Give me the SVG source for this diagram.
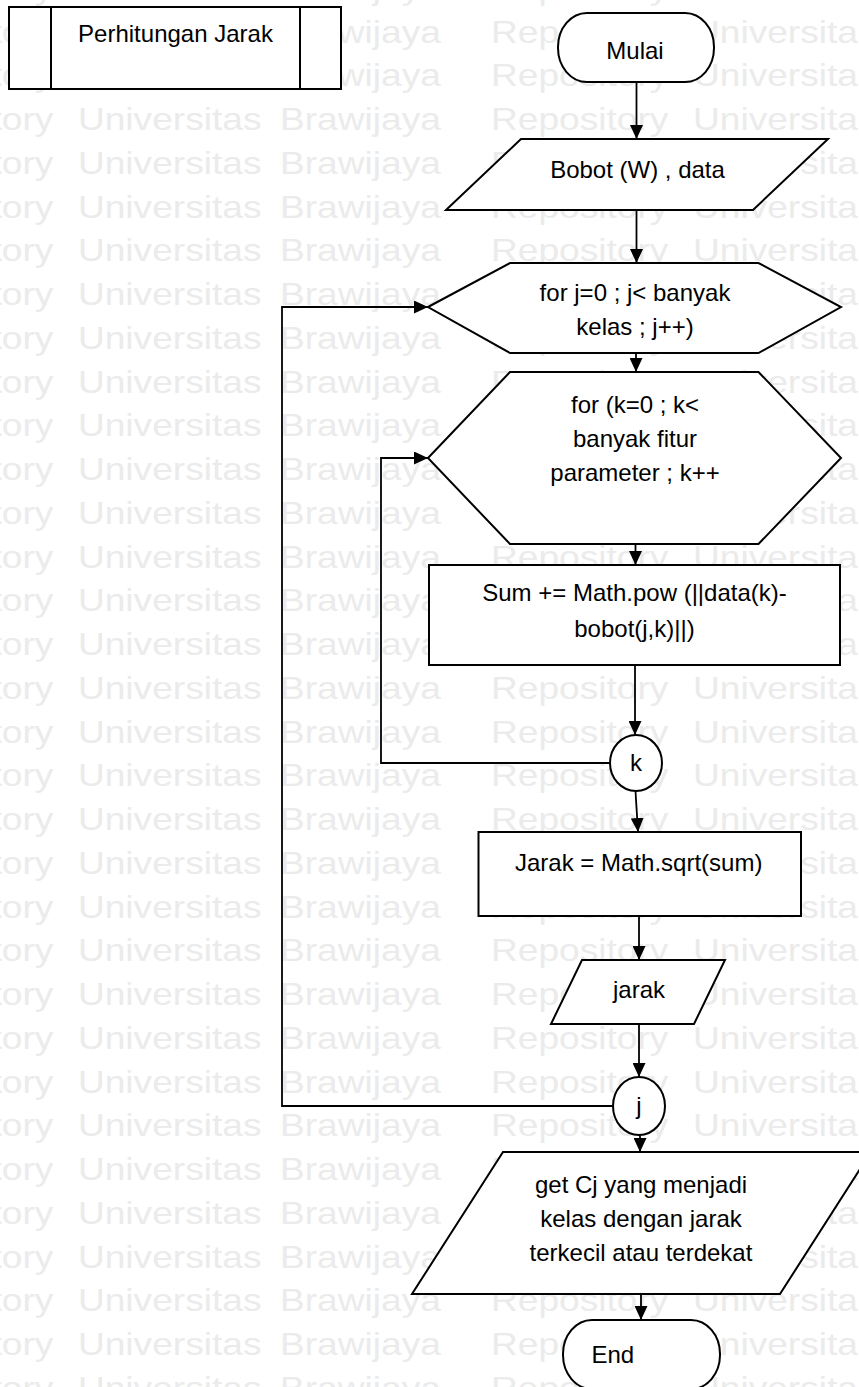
<svg xmlns="http://www.w3.org/2000/svg" width="859" height="1387" viewBox="0 0 859 1387">
  <style>
    .shape { fill: #fff; stroke: #000; stroke-width: 2; }
    .conn { fill: none; stroke: #000; stroke-width: 1.8; }
    .lbl { font-family: "Liberation Sans", Arial, sans-serif; font-size: 24px; fill: #000; text-anchor: middle; }
    .wm { font-family: "Liberation Sans", Arial, sans-serif; font-size: 32px; fill: #ebebeb; }
  </style>
  <defs>
    <marker id="arrow" viewBox="0 0 14 13" refX="14" refY="6.5" markerWidth="14" markerHeight="13" markerUnits="userSpaceOnUse" orient="auto">
      <path d="M0,0 L14,6.5 L0,13 z" fill="#000"/>
    </marker>
    <!-- one repeated line of the background text, stretched horizontally -->
    <g id="wm-row">
      <text class="wm" transform="scale(1.16,1)"><tspan x="-106.9">Repository</tspan><tspan x="67.2">Universitas</tspan><tspan x="241.4">Brawijaya</tspan><tspan x="423.3">Repository</tspan><tspan x="597.4">Universitas</tspan></text>
    </g>
  </defs>

  <rect width="859" height="1387" fill="#fff"/>

  <!-- background watermark rows -->
  <g id="watermark">
    <use href="#wm-row" y="-1.25"/>
    <use href="#wm-row" y="42.5"/>
    <use href="#wm-row" y="86.25"/>
    <use href="#wm-row" y="130"/>
    <use href="#wm-row" y="173.75"/>
    <use href="#wm-row" y="217.5"/>
    <use href="#wm-row" y="261.25"/>
    <use href="#wm-row" y="305"/>
    <use href="#wm-row" y="348.75"/>
    <use href="#wm-row" y="392.5"/>
    <use href="#wm-row" y="436.25"/>
    <use href="#wm-row" y="480"/>
    <use href="#wm-row" y="523.75"/>
    <use href="#wm-row" y="567.5"/>
    <use href="#wm-row" y="611.25"/>
    <use href="#wm-row" y="655"/>
    <use href="#wm-row" y="698.75"/>
    <use href="#wm-row" y="742.5"/>
    <use href="#wm-row" y="786.25"/>
    <use href="#wm-row" y="830"/>
    <use href="#wm-row" y="873.75"/>
    <use href="#wm-row" y="917.5"/>
    <use href="#wm-row" y="961.25"/>
    <use href="#wm-row" y="1005"/>
    <use href="#wm-row" y="1048.75"/>
    <use href="#wm-row" y="1092.5"/>
    <use href="#wm-row" y="1136.25"/>
    <use href="#wm-row" y="1180"/>
    <use href="#wm-row" y="1223.75"/>
    <use href="#wm-row" y="1267.5"/>
    <use href="#wm-row" y="1311.25"/>
    <use href="#wm-row" y="1355"/>
    <use href="#wm-row" y="1398.75"/>
  </g>

  <!-- connectors -->
  <g id="connectors">
    <path class="conn" d="M636.5,82 V139" marker-end="url(#arrow)"/>
    <path class="conn" d="M636.5,210 V263" marker-end="url(#arrow)"/>
    <path class="conn" d="M636,353 V372" marker-end="url(#arrow)"/>
    <path class="conn" d="M635.5,544 V565" marker-end="url(#arrow)"/>
    <path class="conn" d="M635,665 V735" marker-end="url(#arrow)"/>
    <path class="conn" d="M635.5,791 L638,832" marker-end="url(#arrow)"/>
    <path class="conn" d="M639,916 V960" marker-end="url(#arrow)"/>
    <path class="conn" d="M639,1024 V1077" marker-end="url(#arrow)"/>
    <path class="conn" d="M640,1135 V1152" marker-end="url(#arrow)"/>
    <path class="conn" d="M641,1294 V1320" marker-end="url(#arrow)"/>
    <path class="conn" d="M610,763 H381 V458 H428" marker-end="url(#arrow)"/>
    <path class="conn" d="M613,1106 H282 V307 H428" marker-end="url(#arrow)"/>
  </g>

  <!-- predefined process title -->
  <g id="title">
    <rect class="shape" x="9" y="7" width="332" height="82"/>
    <line x1="51" y1="7" x2="51" y2="89" stroke="#000" stroke-width="2"/>
    <line x1="300" y1="7" x2="300" y2="89" stroke="#000" stroke-width="2"/>
    <text class="lbl" x="175.5" y="42">Perhitungan Jarak</text>
  </g>

  <g id="start">
    <rect class="shape" x="558" y="13" width="156" height="69" rx="29" ry="34"/>
    <text class="lbl" x="635" y="59">Mulai</text>
  </g>

  <g id="input-data">
    <polygon class="shape" points="521,139 828,139 753,210 446,210"/>
    <text class="lbl" x="637.5" y="178">Bobot (W) , data</text>
  </g>

  <g id="loop-j">
    <polygon class="shape" points="428,307 510,263 758.5,263 841,307 758.5,353 510,353"/>
    <text class="lbl" x="635" y="301">for j=0 ; j&lt; banyak</text>
    <text class="lbl" x="635" y="335">kelas ; j++)</text>
  </g>

  <g id="loop-k">
    <polygon class="shape" points="428,458 510,372 758.5,372 841,458 758.5,544 510,544"/>
    <text class="lbl" x="635" y="413">for (k=0 ; k&lt;</text>
    <text class="lbl" x="635" y="447">banyak fitur</text>
    <text class="lbl" x="635" y="481">parameter ; k++</text>
  </g>

  <g id="sum">
    <rect class="shape" x="429" y="565" width="411" height="100"/>
    <text class="lbl" x="634.5" y="601">Sum += Math.pow (||data(k)-</text>
    <text class="lbl" x="634.5" y="637">bobot(j,k)||)</text>
  </g>

  <g id="connector-k">
    <ellipse class="shape" cx="636" cy="763" rx="26" ry="28"/>
    <text class="lbl" x="636" y="771">k</text>
  </g>

  <g id="distance">
    <rect class="shape" x="478.5" y="832" width="322.5" height="84"/>
    <text class="lbl" x="638.7" y="871">Jarak = Math.sqrt(sum)</text>
  </g>

  <g id="output-jarak">
    <polygon class="shape" points="582,960 725,960 694,1024 551,1024"/>
    <text class="lbl" x="639" y="998">jarak</text>
  </g>

  <g id="connector-j">
    <ellipse class="shape" cx="639" cy="1106" rx="26" ry="29"/>
    <text class="lbl" x="639" y="1114">j</text>
  </g>

  <g id="output-class">
    <polygon class="shape" points="503,1152 871,1152 780,1294 412,1294"/>
    <text class="lbl" x="641" y="1193">get Cj yang menjadi</text>
    <text class="lbl" x="641" y="1227">kelas dengan jarak</text>
    <text class="lbl" x="641" y="1261">terkecil atau terdekat</text>
  </g>

  <g id="end">
    <rect class="shape" x="563" y="1320" width="157" height="69" rx="29" ry="34"/>
    <text class="lbl" x="591.5" y="1363" style="text-anchor:start">End</text>
  </g>
</svg>
